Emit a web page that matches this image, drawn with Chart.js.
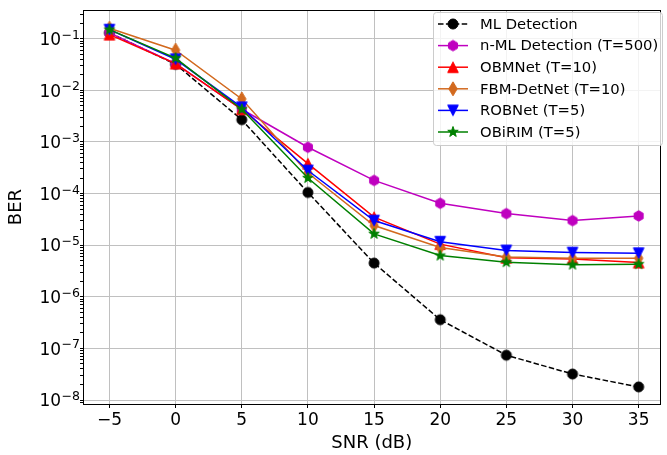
<!DOCTYPE html>
<html>
<head>
<meta charset="utf-8">
<script src="https://cdn.jsdelivr.net/npm/chart.js@4/dist/chart.umd.min.js"></script>
<style>
  html, body { margin: 0; padding: 0; background: #fff; }
</style>
</head>
<body>
<canvas id="mycanvas" width="667" height="455"></canvas>
<script>
// values
var snr = [-5, 0, 5, 10, 15, 20, 25, 30, 35];
var mlDetection  = [0.13, 0.032, 0.0027, 1.05e-4, 4.5e-6, 3.6e-7, 7.4e-8, 3.2e-8, 1.8e-8];
var nmlDetection = [0.13, 0.033, 0.0043, 7.9e-4, 1.8e-4, 6.5e-5, 4.1e-5, 3.0e-5, 3.7e-5];
var obmnet       = [0.12, 0.033, 0.0043, 3.8e-4, 3.5e-5, 1.05e-5, 5.7e-6, 5.4e-6, 4.6e-6];
var fbmDetnet    = [0.16, 0.060, 0.0068, 2.5e-4, 2.4e-5, 9.0e-6, 5.9e-6, 5.6e-6, 5.6e-6];
var robnet       = [0.15, 0.040, 0.0047, 2.8e-4, 3.0e-5, 1.17e-5, 7.9e-6, 7.2e-6, 7.0e-6];
var obirim       = [0.15, 0.042, 0.0043, 2.0e-4, 1.66e-5, 6.3e-6, 4.7e-6, 4.2e-6, 4.3e-6];

var xTicks = [-5, 0, 5, 10, 15, 20, 25, 30, 35];
var yExponents = [-8, -7, -6, -5, -4, -3, -2, -1];

var FONT = "'DejaVu Sans', sans-serif";

// little marker images like the matplotlib ones
function makeMarker(shape, color) {
  var c = document.createElement('canvas');
  c.width = 18; c.height = 18;
  var g = c.getContext('2d');
  var h = 5;
  g.translate(9, 9);
  g.beginPath();
  if (shape == 'o') {
    g.arc(0, 0, h, 0, Math.PI * 2);
  } else if (shape == 'h') {
    for (var i = 0; i < 6; i++) {
      var a = -Math.PI / 2 + i * Math.PI / 3;
      g.lineTo(Math.cos(a) * h * 1.05, Math.sin(a) * h * 1.05);
    }
  } else if (shape == '^') {
    h = 5.3;
    g.moveTo(0, -h); g.lineTo(h, h); g.lineTo(-h, h);
  } else if (shape == 'v') {
    h = 5.3;
    g.moveTo(0, h); g.lineTo(h, -h); g.lineTo(-h, -h);
  } else if (shape == 'd') {
    h = 7;
    g.moveTo(0, -h); g.lineTo(h * 0.6, 0); g.lineTo(0, h); g.lineTo(-h * 0.6, 0);
  } else if (shape == '*') {
    for (var j = 0; j < 10; j++) {
      var b = -Math.PI / 2 + j * Math.PI / 5;
      var r = (j % 2 == 0) ? h * 1.1 : h * 0.44;
      g.lineTo(Math.cos(b) * r, Math.sin(b) * r);
    }
  }
  g.closePath();
  g.fillStyle = color;
  g.strokeStyle = color;
  g.lineWidth = 1;
  g.fill();
  g.stroke();
  return c;
}

function series(label, values, color, shape, dash, order) {
  var pts = [];
  for (var i in snr) pts.push({x: snr[i], y: values[i]});
  return {
    label: label,
    data: pts,
    borderColor: color,
    backgroundColor: color,
    borderWidth: 1.5,
    borderDash: dash,
    pointStyle: makeMarker(shape, color),
    pointRadius: 5,
    fill: false,
    tension: 0,
    order: order
  };
}

var chartdata = {
  datasets: [
    series('ML Detection', mlDetection, '#000000', 'o', [5.5, 2.4], 5),
    series('n-ML Detection (T=500)', nmlDetection, '#bf00bf', 'h', [], 4),
    series('OBMNet (T=10)', obmnet, '#ff0000', '^', [], 3),
    series('FBM-DetNet (T=10)', fbmDetnet, '#d2691e', 'd', [], 2),
    series('ROBNet (T=5)', robnet, '#0000ff', 'v', [], 1),
    series('OBiRIM (T=5)', obirim, '#008000', '*', [], 0)
  ]
};

// box round the plot, 10^n labels and the legend inside it
var framePlugin = {
  id: 'frame',
  afterDraw: function(chart) {
    var ctx = chart.ctx, a = chart.chartArea;
    ctx.save();
    ctx.strokeStyle = '#000';
    ctx.lineWidth = 1;
    ctx.strokeRect(Math.round(a.left) + 0.5, Math.round(a.top) + 0.5,
                   Math.round(a.right - a.left) - 1, Math.round(a.bottom - a.top));

    // y tick labels with raised exponent
    var ys = chart.scales.y;
    ctx.fillStyle = '#000';
    ctx.textBaseline = 'alphabetic';
    ctx.textAlign = 'left';
    yExponents.forEach(function(e) {
      var py = ys.getPixelForValue(Math.pow(10, e));
      var ex = '\u2212' + Math.abs(e);
      ctx.font = '12.5px ' + FONT;
      var we = ctx.measureText(ex).width;
      ctx.fillText(ex, 80 - we, py);
      ctx.font = '17px ' + FONT;
      var wb = ctx.measureText('10').width;
      ctx.fillText('10', 80 - we - wb - 0.5, py + 6.2);
    });

    var bx = 433, by = 12, bw = 229, bh = 133;
    ctx.beginPath();
    ctx.roundRect(bx + 0.5, by + 0.5, bw, bh, 3);
    ctx.fillStyle = 'rgba(255,255,255,0.8)';
    ctx.fill();
    ctx.strokeStyle = '#cccccc';
    ctx.stroke();

    ctx.font = '14.8px ' + FONT;
    ctx.textBaseline = 'middle';
    ctx.textAlign = 'left';
    chart.data.datasets.forEach(function(ds, i) {
      var y = 24 + i * 21.6;
      ctx.beginPath();
      ctx.strokeStyle = ds.borderColor;
      ctx.lineWidth = 1.5;
      ctx.setLineDash(ds.borderDash);
      ctx.moveTo(438, y);
      ctx.lineTo(468, y);
      ctx.stroke();
      ctx.setLineDash([]);
      ctx.drawImage(ds.pointStyle, 453 - 9, y - 9);
      ctx.fillStyle = '#000';
      ctx.fillText(ds.label, 480, y + 1);
    });
    ctx.restore();
  }
};

function isMajor(v) {
  var e = Math.log10(v);
  return Math.abs(e - Math.round(e)) < 1e-6;
}

var ctx = document.getElementById('mycanvas');

var LineGraph = new Chart(ctx, {
  type: 'line',
  data: chartdata,
  plugins: [framePlugin],
  options: {
    responsive: false,
    animation: false,
    events: [],
    layout: { padding: { top: 4, right: 2, left: 0, bottom: 0 } },
    plugins: {
      legend: { display: false },
      tooltip: { enabled: false }
    },
    scales: {
      x: {
        type: 'linear',
        min: -7,
        max: 36.65,
        afterBuildTicks: function(scale) {
          scale.ticks = xTicks.map(function(v){ return {value: v}; });
        },
        afterFit: function(scale) { scale.height = 51; },
        ticks: {
          autoSkip: false,
          maxRotation: 0,
          padding: 2,
          color: '#000',
          font: { family: FONT, size: 17 },
          callback: function(v) { return v < 0 ? '\u2212' + Math.abs(v) : String(v); }
        },
        grid: { color: '#c0c0c0', lineWidth: 1, tickColor: '#000', tickLength: 4 },
        border: { display: true, color: '#000', width: 1 },
        title: {
          display: true,
          text: 'SNR (dB)',
          color: '#000',
          font: { family: FONT, size: 18 },
          padding: { top: 0, bottom: 1 }
        }
      },
      y: {
        type: 'logarithmic',
        min: Math.pow(10, -8.076),
        max: 0.357,
        afterBuildTicks: function(scale) {
          var t = [];
          for (var e = -9; e <= 0; e++) {
            for (var m = 1; m <= 9; m++) {
              var v = m * Math.pow(10, e);
              if (v >= scale.min && v <= scale.max) t.push({value: v});
            }
          }
          scale.ticks = t;
        },
        afterFit: function(scale) { scale.width = 83; },
        ticks: {
          autoSkip: false,
          padding: 3,
          callback: function() { return ''; }
        },
        grid: {
          color: function(c) { return (c.tick && isMajor(c.tick.value)) ? '#c0c0c0' : 'rgba(0,0,0,0)'; },
          lineWidth: 1,
          tickColor: '#000',
          tickLength: 3
        },
        border: { display: true, color: '#000', width: 1 },
        title: {
          display: true,
          text: 'BER',
          color: '#000',
          font: { family: FONT, size: 18 },
          padding: { top: 6, bottom: 0 }
        }
      }
    }
  }
});
</script>
</body>
</html>
